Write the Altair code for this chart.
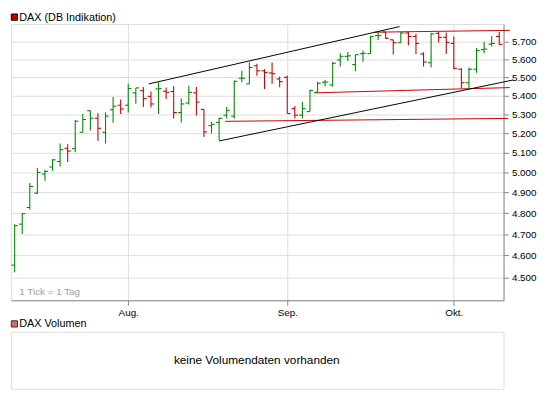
import altair as alt
import pandas as pd

# ---------------- data ----------------
opens = [4556, 4747, 4827, 4897, 4992, 5027, 5055, 5122, 5120, 5205,
         5319, 5279, 5205, 5324, 5348, 5348, 5415, 5427, 5396, 5436,
         5424, 5422, 5309, 5360, 5415, 5326, 5240, 5257, 5295, 5290,
         5495, 5464, 5564, 5536, 5524, 5491, 5500, 5330, 5295, 5314,
         5418, 5473, 5458, 5596, 5617, 5571, 5632, 5632, 5735, 5756,
         5711, 5694, 5750, 5730, 5630, 5581, 5748, 5725, 5690, 5545,
         5470, 5545, 5655, 5686, 5730]
highs = [4747, 4800, 4947, 5022, 5013, 5067, 5147, 5143, 5270, 5302,
         5319, 5305, 5310, 5393, 5379, 5464, 5442, 5447, 5422, 5473,
         5444, 5451, 5384, 5453, 5447, 5326, 5260, 5283, 5339, 5482,
         5536, 5582, 5576, 5545, 5582, 5505, 5509, 5344, 5365, 5433,
         5476, 5486, 5587, 5635, 5641, 5626, 5650, 5733, 5756, 5756,
         5711, 5756, 5756, 5745, 5640, 5752, 5755, 5753, 5730, 5550,
         5555, 5665, 5700, 5733, 5756]
lows = [4523, 4700, 4816, 4893, 4958, 5008, 5030, 5052, 5102, 5205,
        5214, 5161, 5147, 5255, 5302, 5309, 5356, 5339, 5336, 5302,
        5382, 5277, 5257, 5352, 5293, 5180, 5200, 5165, 5278, 5278,
        5473, 5464, 5509, 5436, 5464, 5445, 5304, 5278, 5278, 5314,
        5418, 5449, 5449, 5560, 5591, 5533, 5587, 5632, 5709, 5716,
        5627, 5694, 5680, 5630, 5560, 5555, 5696, 5630, 5545, 5440,
        5430, 5525, 5635, 5673, 5683]
closes = [4740, 4797, 4930, 5000, 5005, 5063, 5115, 5108, 5263, 5272,
          5279, 5226, 5290, 5343, 5328, 5438, 5442, 5384, 5355, 5438,
          5418, 5309, 5355, 5418, 5365, 5207, 5247, 5278, 5321, 5478,
          5495, 5555, 5536, 5527, 5520, 5476, 5304, 5295, 5330, 5427,
          5467, 5474, 5578, 5617, 5620, 5626, 5634, 5729, 5735, 5720,
          5694, 5750, 5730, 5690, 5585, 5745, 5725, 5696, 5550, 5470,
          5545, 5650, 5658, 5690, 5685]

month_idx = [15, 36, 58]
month_labels = ["Aug.", "Sep.", "Okt."]
y_ticks = [4500, 4600, 4700, 4800, 4900, 5000, 5100, 5200, 5300, 5400, 5500, 5600, 5700]

# trend lines: (start index, start value) -> (end index, end value)
black_x = [[17.71, 50.83], [27.0, 65.8]]
black_y = [[5463.6, 5787.0], [5160.0, 5485.0]]
red_x = [[47.5, 65.4], [39.6, 65.4], [27.8, 65.2]]
red_y = [[5754.6, 5765.0], [5415.0, 5443.6], [5262.5, 5278.0]]

title_main = "DAX (DB Indikation)"
title_vol = "DAX Volumen"
tick_note = "1 Tick = 1 Tag"
vol_msg = "keine Volumendaten vorhanden"

GREEN = "#008a00"
RED = "#cc0000"
FONT = "Liberation Sans"

# ---------------- frames ----------------
n = len(closes)
dirs = ["up" if (i == 0 or closes[i] >= closes[i - 1]) else "down" for i in range(n)]
df = pd.DataFrame({"i": list(range(n)), "open": opens, "high": highs,
                   "low": lows, "close": closes, "dir": dirs})

def lines_df(xs, ys):
    rows = []
    for k, (xx, yy) in enumerate(zip(xs, ys)):
        for a, b in zip(xx, yy):
            rows.append({"line": k, "x": a, "y": b})
    return pd.DataFrame(rows)

blk = lines_df(black_x, black_y)
rd = lines_df(red_x, red_y)

label_expr = "''"
for v, l in reversed(list(zip(month_idx, month_labels))):
    label_expr = f"datum.value == {v} ? '{l}' : {label_expr}"

xscale = alt.Scale(domain=[-0.49, 64.57], nice=False, zero=False)
yscale = alt.Scale(type="log", domain=[4398, 5802], nice=False, zero=False)
xaxis = alt.Axis(values=month_idx, labelExpr=label_expr, title=None, grid=True,
                 labelPadding=2, labelFlush=False)
yaxis = alt.Axis(values=y_ticks, orient="right", title=None, grid=True,
                 labelExpr="replace(format(datum.value, ','), ',', '.')",
                 labelPadding=3, labelAlign="left", labelBaseline="middle")

col = alt.Color("dir:N", scale=alt.Scale(domain=["up", "down"], range=[GREEN, RED]), legend=None)

base = alt.Chart(df).transform_calculate(xo="datum.i - 0.42", xc="datum.i + 0.42")

hl = base.mark_rule(strokeWidth=1.1).encode(
    x=alt.X("i:Q", scale=xscale, axis=xaxis),
    y=alt.Y("low:Q", scale=yscale, axis=yaxis),
    y2="high:Q", color=col)
op = base.mark_rule(strokeWidth=1.1).encode(
    x=alt.X("xo:Q", scale=xscale, axis=xaxis), x2="i:Q",
    y=alt.Y("open:Q", scale=yscale, axis=yaxis), color=col)
cl = base.mark_rule(strokeWidth=1.1).encode(
    x=alt.X("i:Q", scale=xscale, axis=xaxis), x2="xc:Q",
    y=alt.Y("close:Q", scale=yscale, axis=yaxis), color=col)

black_lines = alt.Chart(blk).mark_line(color="black", strokeWidth=1, clip=False).encode(
    x=alt.X("x:Q", scale=xscale, axis=xaxis),
    y=alt.Y("y:Q", scale=yscale, axis=yaxis), detail="line:N")
red_lines = alt.Chart(rd).mark_line(color=RED, strokeWidth=1, clip=False).encode(
    x=alt.X("x:Q", scale=xscale, axis=xaxis),
    y=alt.Y("y:Q", scale=yscale, axis=yaxis), detail="line:N")

lab_df = pd.DataFrame({"t": [title_main]})
sq_main = alt.Chart(lab_df).mark_square(size=40, fill=RED, stroke="black",
                                        strokeWidth=1, opacity=1).encode(
    x=alt.value(3.5), y=alt.value(-7))
txt_main = alt.Chart(lab_df).mark_text(font=FONT, fontSize=11, align="left",
                                       baseline="middle", color="black").encode(
    text="t:N", x=alt.value(8.5), y=alt.value(-6.5))
note = alt.Chart(pd.DataFrame({"t": [tick_note]})).mark_text(
    font=FONT, fontSize=10, align="left", baseline="middle", color="#a0a0a0").encode(
    text="t:N", x=alt.value(8.5), y=alt.value(273))

main = alt.layer(red_lines, black_lines, hl, op, cl, sq_main, txt_main, note).properties(
    width=501, height=281)

vol_df = pd.DataFrame({"t": [title_vol], "m": [vol_msg]})
sq_vol = alt.Chart(vol_df).mark_square(size=40, fill="#dc6666", stroke="#333333",
                                       strokeWidth=1, opacity=1).encode(
    x=alt.value(3.5), y=alt.value(-8))
txt_vol = alt.Chart(vol_df).mark_text(font=FONT, fontSize=11, align="left",
                                      baseline="middle", color="black").encode(
    text="t:N", x=alt.value(8.5), y=alt.value(-7.5))
msg_vol = alt.Chart(vol_df).mark_text(font=FONT, fontSize=12, align="center",
                                      baseline="middle", color="black").encode(
    text="m:N", x=alt.value(250), y=alt.value(29))
vol = alt.layer(sq_vol, txt_vol, msg_vol).properties(width=501, height=58)

chart = alt.vconcat(main, vol, spacing=32, bounds="flush").properties(
    padding=0
).configure_view(stroke="#d0d0d0", strokeWidth=1).configure_axis(
    labelFont=FONT, labelFontSize=11, labelColor="black", gridColor="#dcdcdc",
    gridWidth=1, domain=False, ticks=False
).configure(background="white")

chart.save("out.html", embed_options={"renderer": "svg", "actions": False})
